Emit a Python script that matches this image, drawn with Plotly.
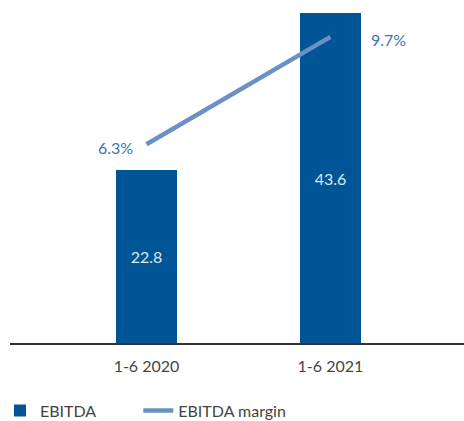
import plotly.graph_objects as go

# Half-year EBITDA and EBITDA margin
periods = ["1-6 2020", "1-6 2021"]
ebitda = [22.8, 43.6]
margin_pct = [6.3, 9.7]

bar_color = "#005596"
line_color = "#6a90c4"
label_color = "#3a74b6"
text_color = "#444444"
font_family = "Lato"

fig = go.Figure()

fig.add_trace(go.Bar(
    x=periods,
    y=ebitda,
    name="EBITDA",
    marker=dict(color=bar_color, line=dict(width=0)),
    width=0.33,
    text=[f"{v:.1f}" for v in ebitda],
    textposition="inside",
    insidetextanchor="middle",
    textfont=dict(family=font_family, size=16, color="#dfe6ef"),
    yaxis="y",
    legend="legend",
))

fig.add_trace(go.Scatter(
    x=periods,
    y=margin_pct,
    name="EBITDA margin",
    mode="lines",
    line=dict(color=line_color, width=4.5),
    yaxis="y2",
    legend="legend2",
))

# Margin labels beside the line end points
label_shift = [-31, 58]
for p, m, dx in zip(periods, margin_pct, label_shift):
    fig.add_annotation(
        x=p, y=m, xref="x", yref="y2",
        text=f"{m:.1f}%",
        showarrow=False,
        xshift=dx, yshift=-3,
        font=dict(family=font_family, size=16, color=label_color),
    )

legend_style = dict(
    orientation="h",
    xref="container", yref="container",
    xanchor="left",
    y=0.025, yanchor="middle",
    font=dict(family=font_family, size=16, color=text_color),
    itemwidth=30,
    bgcolor="rgba(0,0,0,0)",
)

fig.update_layout(
    width=464,
    height=421,
    margin=dict(l=10, r=0, t=0, b=78),
    paper_bgcolor="white",
    plot_bgcolor="white",
    showlegend=True,
    bargap=0,
    legend=dict(x=-0.005, **legend_style),
    legend2=dict(x=0.298, **legend_style),
    xaxis=dict(
        type="category",
        range=[-0.742, 1.726],
        showline=True,
        linecolor="#333333",
        linewidth=2,
        showgrid=False,
        ticks="",
        tickfont=dict(family=font_family, size=16, color=text_color),
        ticklabelstandoff=8,
        zeroline=False,
    ),
    yaxis=dict(
        range=[0, 45.25],
        showgrid=False,
        showticklabels=False,
        zeroline=False,
        showline=False,
    ),
    yaxis2=dict(
        range=[0, 10.87],
        overlaying="y",
        side="right",
        showgrid=False,
        showticklabels=False,
        zeroline=False,
        showline=False,
    ),
)

fig.write_html("out.html")
